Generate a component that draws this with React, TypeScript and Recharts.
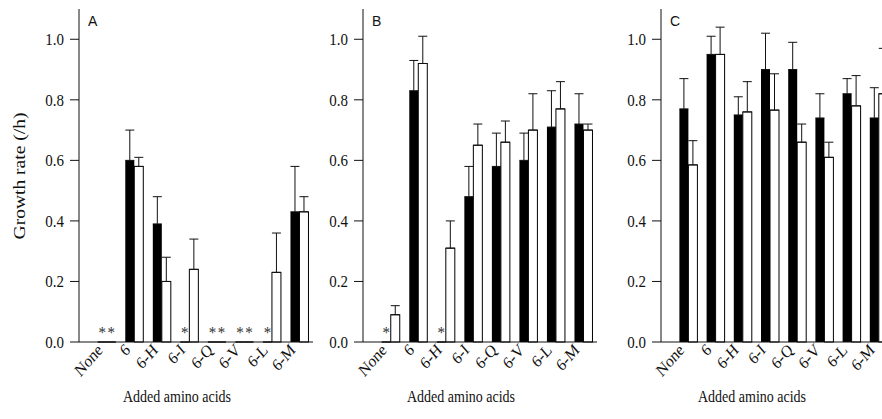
import { BarChart, Bar, XAxis, YAxis, ErrorBar } from "recharts"

const CATEGORIES = ["None", "6", "6-H", "6-I", "6-Q", "6-V", "6-L", "6-M"]
const Y_TICKS = [0, 0.2, 0.4, 0.6, 0.8, 1.0]

// null = no growth (shown as *)
const A_BLACK = [null, 0.6, 0.39, null, null, null, null, 0.43]
const A_BLACK_ERR = [0, 0.1, 0.09, 0, 0, 0, 0, 0.15]
const A_WHITE = [null, 0.58, 0.2, 0.24, null, null, 0.23, 0.43]
const A_WHITE_ERR = [0, 0.03, 0.08, 0.1, 0, 0, 0.13, 0.05]

const B_BLACK = [null, 0.83, null, 0.48, 0.58, 0.6, 0.71, 0.72]
const B_BLACK_ERR = [0, 0.1, 0, 0.1, 0.11, 0.09, 0.12, 0.1]
const B_WHITE = [0.09, 0.92, 0.31, 0.65, 0.66, 0.7, 0.77, 0.7]
const B_WHITE_ERR = [0.03, 0.09, 0.09, 0.07, 0.07, 0.12, 0.09, 0.02]

const C_BLACK = [0.77, 0.95, 0.75, 0.9, 0.9, 0.74, 0.82, 0.74]
const C_BLACK_ERR = [0.1, 0.06, 0.06, 0.12, 0.09, 0.08, 0.05, 0.1]
const C_WHITE = [0.585, 0.95, 0.76, 0.766, 0.66, 0.61, 0.78, 0.82]
const C_WHITE_ERR = [0.08, 0.09, 0.1, 0.12, 0.06, 0.05, 0.1, 0.15]

const SERIF = "'Liberation Serif', 'Times New Roman', Times, 'DejaVu Serif', serif"
const SANS = "'Liberation Sans', Arial, sans-serif"
// the scanned figure is a bit taller than wide, so text gets a small vertical stretch
const STRETCH = 1.15

type Num = number | null

function buildData(black: Num[], blackErr: number[], white: Num[], whiteErr: number[]) {
  return CATEGORIES.map((name, i) => ({
    name,
    black: black[i] ?? 0,
    blackErr: [0, blackErr[i]],
    blackMark: black[i] == null,
    white: white[i] ?? 0,
    whiteErr: [0, whiteErr[i]],
    whiteMark: white[i] == null,
  }))
}

const PANELS = [
  { letter: "A", data: buildData(A_BLACK, A_BLACK_ERR, A_WHITE, A_WHITE_ERR), left: 0, yw: 79, width: 320, plotW: 234, pad: 13.75, labelX: 177, yLabel: true },
  { letter: "B", data: buildData(B_BLACK, B_BLACK_ERR, B_WHITE, B_WHITE_ERR), left: 290, yw: 73, width: 315, plotW: 234, pad: 13.75, labelX: 461, yLabel: false },
  { letter: "C", data: buildData(C_BLACK, C_BLACK_ERR, C_WHITE, C_WHITE_ERR), left: 580, yw: 81, width: 320, plotW: 231, pad: 13.4, labelX: 752, yLabel: false },
]

function SText({ x, y, size, anchor = "middle", rotate = 0, dy, fill = "#111", children }: any) {
  const rot = rotate ? ` rotate(${rotate})` : ""
  return (
    <g transform={`translate(${x},${y}) scale(1,${STRETCH})${rot}`}>
      <text x={0} y={0} dy={dy} textAnchor={anchor} fill={fill} style={{ fontFamily: SERIF, fontSize: size }}>
        {children}
      </text>
    </g>
  )
}

const XTick = (props: any) => {
  const { x, y, payload } = props
  return (
    <SText x={x - 3} y={y + 9} size={15} anchor="end" rotate={-45}>
      {payload.value}
    </SText>
  )
}

const YTick = (props: any) => {
  const { x, y, payload } = props
  return (
    <SText x={x} y={y} size={15} anchor="end" dy="0.34em">
      {payload.value.toFixed(1)}
    </SText>
  )
}

// bar shape: draws the rectangle, or an asterisk when there was no growth
const makeShape = (markKey: string, fill: string, stroke?: string) => (props: any) => {
  const { x, y, width, height, payload } = props
  if (payload[markKey]) {
    return (
      <SText x={x + width / 2} y={y + height - 4} size={15} fill="#333">
        *
      </SText>
    )
  }
  return <rect x={x} y={y} width={width} height={height} fill={fill} stroke={stroke} strokeWidth={stroke ? 1 : 0} />
}

const blackShape = makeShape("blackMark", "#000")
const whiteShape = makeShape("whiteMark", "#fff", "#000")

function Panel({ p }: { p: (typeof PANELS)[number] }) {
  return (
    <div style={{ position: "absolute", left: p.left, top: 0 }}>
      <BarChart width={p.width} height={419} data={p.data} margin={{ top: 9, right: p.width - p.yw - p.plotW, bottom: 0, left: 0 }} barSize={9} barGap={0}>
        <XAxis
          dataKey="name"
          height={77}
          tickLine={false}
          tickSize={0}
          tickMargin={0}
          interval={0}
          padding={{ left: p.pad, right: 0 }}
          axisLine={{ stroke: "#111" }}
          tick={<XTick />}
          label={() => (
            <SText x={p.labelX - p.left} y={402} size={14}>
              Added amino acids
            </SText>
          )}
        />
        <YAxis
          width={p.yw}
          domain={[0, 1.1]}
          ticks={Y_TICKS}
          tickSize={9}
          tickMargin={6}
          axisLine={{ stroke: "#111" }}
          tickLine={{ stroke: "#111" }}
          tick={<YTick />}
          label={
            p.yLabel
              ? () => (
                  <SText x={25} y={176} size={17} rotate={-90}>
                    Growth rate (/h)
                  </SText>
                )
              : undefined
          }
        />
        <Bar dataKey="black" fill="#000" shape={blackShape} isAnimationActive={false}>
          <ErrorBar dataKey="blackErr" direction="y" width={4.5} stroke="#111" strokeWidth={1} />
        </Bar>
        <Bar dataKey="white" fill="#fff" stroke="#000" shape={whiteShape} isAnimationActive={false}>
          <ErrorBar dataKey="whiteErr" direction="y" width={4.5} stroke="#111" strokeWidth={1} />
        </Bar>
      </BarChart>
      <div style={{ position: "absolute", left: p.yw + 9, top: 14, fontFamily: SANS, fontSize: 14, lineHeight: "14px", color: "#111" }}>{p.letter}</div>
    </div>
  )
}

export default function App() {
  return (
    <div style={{ position: "fixed", left: 0, top: 0, width: 882, height: 419, overflow: "hidden", background: "#fff" }}>
      {PANELS.map((p) => (
        <Panel key={p.letter} p={p} />
      ))}
    </div>
  )
}
